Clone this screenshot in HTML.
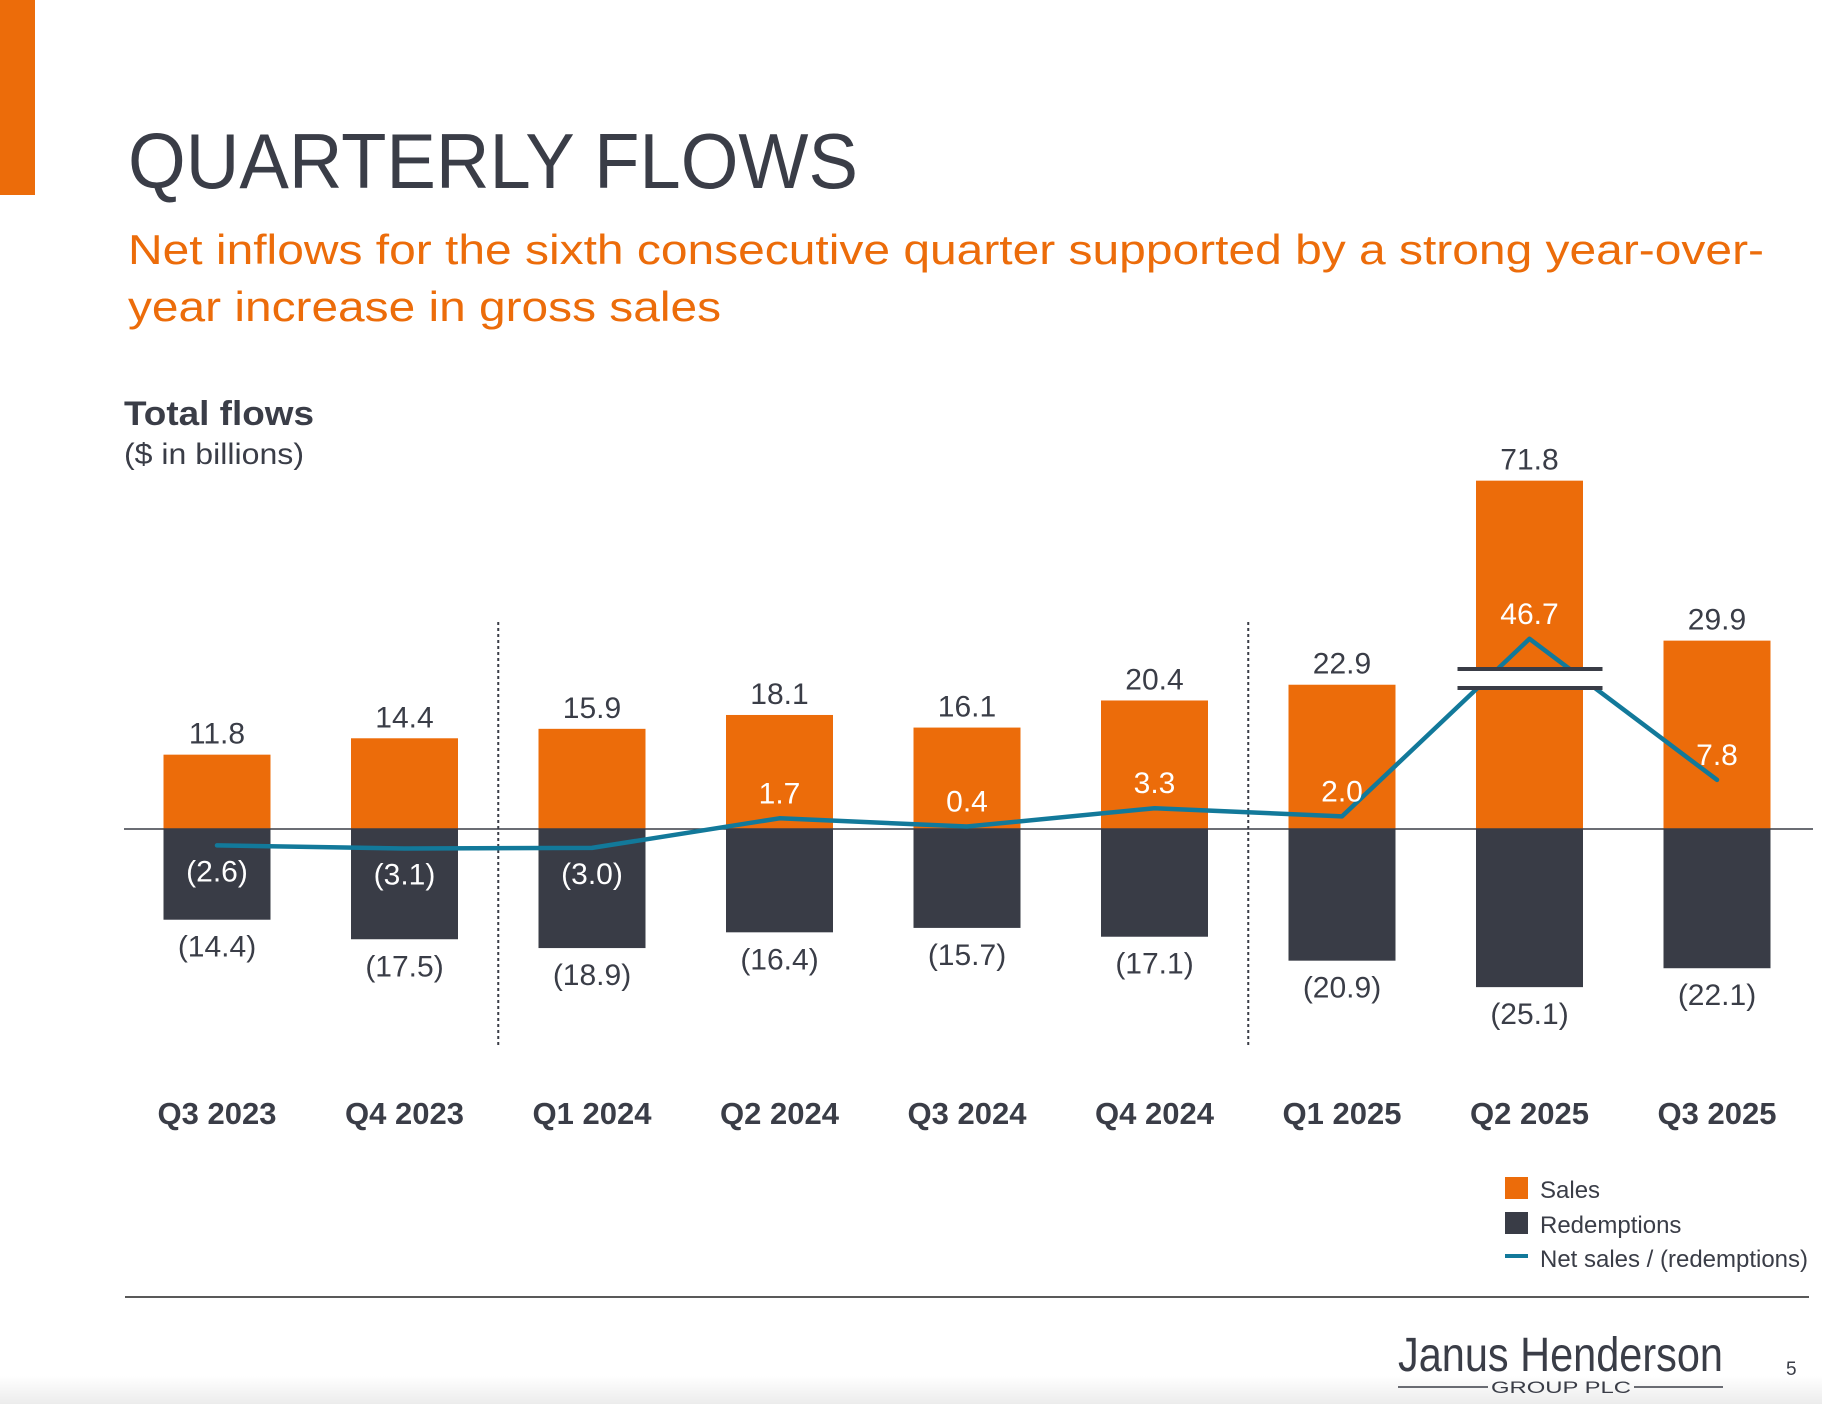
<!DOCTYPE html>
<html><head><meta charset="utf-8">
<style>
html,body{margin:0;padding:0;background:#fff;}
svg{display:block;font-family:"Liberation Sans",Arial,sans-serif;}
</style></head>
<body>
<svg id="chart" width="1822" height="1404" viewBox="0 0 1822 1404">
  <defs>
    <linearGradient id="fade" x1="0" y1="0" x2="0" y2="1">
      <stop offset="0" stop-color="#ffffff"/><stop offset="1" stop-color="#ececec"/>
    </linearGradient>
  </defs>
  <rect x="0" y="1376" width="1822" height="28" fill="url(#fade)"/>
  <rect x="0" y="0" width="35" height="195" fill="#ec6c0a"/>
  <text x="128" y="188" font-size="78" fill="#3a3d47" textLength="730" lengthAdjust="spacingAndGlyphs">QUARTERLY FLOWS</text>
  <text x="128" y="264" font-size="42" fill="#ec6c0a" textLength="1636" lengthAdjust="spacingAndGlyphs">Net inflows for the sixth consecutive quarter supported by a strong year-over-</text>
  <text x="128" y="321" font-size="42" fill="#ec6c0a" textLength="593" lengthAdjust="spacingAndGlyphs">year increase in gross sales</text>
  <text x="124" y="425" font-size="34" font-weight="bold" fill="#3a3d47" textLength="190" lengthAdjust="spacingAndGlyphs">Total flows</text>
  <text x="124" y="464" font-size="30" fill="#3a3d47" textLength="180" lengthAdjust="spacingAndGlyphs">($ in billions)</text>

  <g id="plot"></g>

  <g>
    <rect x="1505" y="1177" width="23" height="22" fill="#ec6c0a"/>
    <text x="1540" y="1198" font-size="24" fill="#3a3d47">Sales</text>
    <rect x="1505" y="1212" width="23" height="22" fill="#393c46"/>
    <text x="1540" y="1233" font-size="24" fill="#3a3d47">Redemptions</text>
    <rect x="1505" y="1254" width="23" height="4" fill="#12799a"/>
    <text x="1540" y="1267" font-size="24" fill="#3a3d47" textLength="268" lengthAdjust="spacingAndGlyphs">Net sales / (redemptions)</text>
  </g>

  <line x1="125" y1="1297" x2="1809" y2="1297" stroke="#222" stroke-width="1.5"/>
  <text x="1398" y="1371" font-size="48" fill="#3a3d47" textLength="325" lengthAdjust="spacingAndGlyphs">Janus Henderson</text>
  <line x1="1398" y1="1387" x2="1488" y2="1387" stroke="#3a3d47" stroke-width="1.5"/>
  <line x1="1634" y1="1387" x2="1723" y2="1387" stroke="#3a3d47" stroke-width="1.5"/>
  <text x="1491" y="1393" font-size="17" fill="#3a3d47" textLength="140" lengthAdjust="spacingAndGlyphs">GROUP PLC</text>
  <text x="1786" y="1375" font-size="19" fill="#3a3d47">5</text>
</svg>
<script>
const categories = ["Q3 2023","Q4 2023","Q1 2024","Q2 2024","Q3 2024","Q4 2024","Q1 2025","Q2 2025","Q3 2025"];
const sales = [11.8,14.4,15.9,18.1,16.1,20.4,22.9,71.8,29.9];
const redemptions = [-14.4,-17.5,-18.9,-16.4,-15.7,-17.1,-20.9,-25.1,-22.1];
const netFlows = [-2.6,-3.1,-3.0,1.7,0.4,3.3,2.0,46.7,7.8];
const salesLabels = ["11.8","14.4","15.9","18.1","16.1","20.4","22.9","71.8","29.9"];
const redLabels = ["(14.4)","(17.5)","(18.9)","(16.4)","(15.7)","(17.1)","(20.9)","(25.1)","(22.1)"];
const netLabels = ["(2.6)","(3.1)","(3.0)","1.7","0.4","3.3","2.0","46.7","7.8"];
const dividerAfter = [1,5];

const NS = "http://www.w3.org/2000/svg";
const plot = document.getElementById('plot');
const BASE = 829, PX = 6.3, BREAK_AT = 40, BREAK_CUT = 104;
const X0 = 217, STEP = 187.5, BW = 107;
function xScale(i){ return X0 + i*STEP; }
function yScale(v){ const h = v > BREAK_AT ? v*PX - BREAK_CUT : v*PX; return BASE - h; }
function mk(tag, attrs){ const e = document.createElementNS(NS, tag); for (const k in attrs) e.setAttribute(k, attrs[k]); plot.appendChild(e); return e; }
function txt(x,y,s,size,fill,weight){ const t = mk('text',{x:x,y:y,'font-size':size,fill:fill,'text-anchor':'middle','font-weight':weight||'normal'}); t.textContent = s; return t; }

categories.forEach((c,i)=>{
  const cx = xScale(i);
  const ys = yScale(sales[i]);
  const r1 = mk('rect',{x:cx-BW/2,y:ys,width:BW,height:BASE-ys,fill:'#ec6c0a'});
  
  
  const yr = yScale(redemptions[i]);
  const r2 = mk('rect',{x:cx-BW/2,y:BASE,width:BW,height:yr-BASE,fill:'#393c46'});
  
  
  const t1 = txt(cx, ys-11, salesLabels[i], 30, '#3a3d47');
  
  
  const t2 = txt(cx, yr+37, redLabels[i], 30, '#3a3d47');
  
  
  const t3 = txt(cx, 1124, c, 31, '#3a3d47', 'bold');
  
  
});

dividerAfter.forEach((d,k)=>{
  const x = (xScale(d)+xScale(d+1))/2;
  const l = mk('line',{x1:x,y1:622,x2:x,y2:1046,stroke:'#3a3d47','stroke-width':2,'stroke-dasharray':'3,3'});
  
  
});

const axis = mk('line',{x1:124,y1:BASE,x2:1813,y2:BASE,stroke:'#3a3d47','stroke-width':1.5});



const pts = netFlows.map((v,i)=>xScale(i)+','+yScale(v)).join(' ');
const line = mk('polyline',{points:pts,fill:'none',stroke:'#12799a','stroke-width':4.5,'stroke-linejoin':'round','stroke-linecap':'round'});



const bi = sales.findIndex(v=>v>BREAK_AT);
if (bi >= 0) {
  const bx = xScale(bi);
  const gap = mk('rect',{x:bx-72,y:670,width:145,height:17,fill:'#fff'});
  
  
  const b1 = mk('line',{x1:bx-72,y1:669,x2:bx+73,y2:669,stroke:'#393c46','stroke-width':4});
  
  
  const b2 = mk('line',{x1:bx-72,y1:688,x2:bx+73,y2:688,stroke:'#393c46','stroke-width':4});
  
  
}

netFlows.forEach((v,i)=>{
  const y = yScale(v);
  const t = txt(xScale(i), v < 0 ? y+36 : y-15, netLabels[i], 30, '#ffffff');
  
  
});
</script>
</body></html>
